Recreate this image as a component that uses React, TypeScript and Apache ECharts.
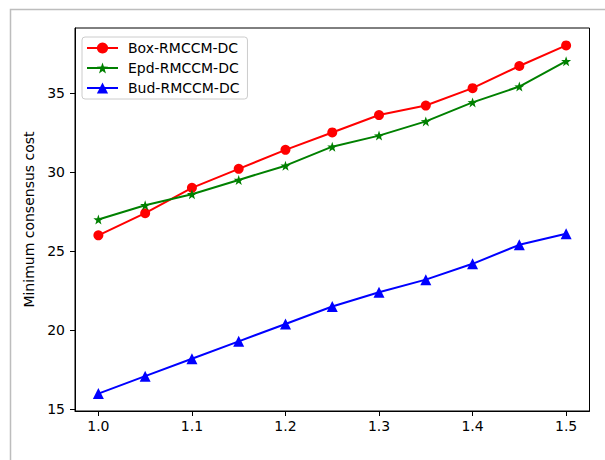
import React, { useEffect, useRef } from "react";
import * as echarts from "echarts";

const xValues = [1.0, 1.05, 1.1, 1.15, 1.2, 1.25, 1.3, 1.35, 1.4, 1.45, 1.5];
const boxValues = [26.0, 27.4, 29.0, 30.2, 31.4, 32.5, 33.6, 34.2, 35.3, 36.7, 38.0];
const epdValues = [27.0, 27.9, 28.6, 29.5, 30.4, 31.6, 32.3, 33.2, 34.4, 35.4, 37.0];
const budValues = [16.0, 17.1, 18.2, 19.3, 20.4, 21.5, 22.4, 23.2, 24.2, 25.4, 26.1];
const xTicks = [1.0, 1.1, 1.2, 1.3, 1.4, 1.5];
const yTicks = [15, 20, 25, 30, 35];
const seriesNames = ["Box-RMCCM-DC", "Epd-RMCCM-DC", "Bud-RMCCM-DC"];

const STAR =
  "path://M0,-10 L2.35,-3.24 L9.51,-3.09 L3.8,1.24 L5.88,8.09 L0,4 L-5.88,8.09 L-3.8,1.24 L-9.51,-3.09 L-2.35,-3.24 Z";

const FONT = "DejaVu Sans";

export default function App() {
  const ref = useRef<HTMLDivElement>(null);
  useEffect(() => {
    if (!ref.current) return;
    const chart = echarts.init(ref.current, null, { renderer: "svg" });
    const zip = (ys: number[]) => xValues.map((x, i) => [x, ys[i]]);
    chart.setOption({
      animation: false,
      backgroundColor: "#fff",
      graphic: [
        {
          type: "rect",
          shape: { x: 10.5, y: 9.5, width: 700, height: 700 },
          style: { fill: "none", stroke: "#bdbdbd", lineWidth: 1.5 },
          silent: true,
        },
      ],
      grid: {
        left: 75,
        right: 15.5,
        top: 28,
        bottom: 49,
        show: true,
        borderColor: "#000",
        borderWidth: 1,
        backgroundColor: "transparent",
      },
      legend: {
        orient: "vertical",
        left: 82,
        top: 37,
        itemWidth: 31,
        itemHeight: 14,
        itemGap: 6,
        padding: [4, 8, 4, 4],
        borderColor: "#cccccc",
        borderWidth: 1,
        borderRadius: 3,
        backgroundColor: "rgba(255,255,255,0.8)",
        textStyle: {
          fontFamily: FONT,
          fontSize: 14,
          color: "#000",
          lineHeight: 14,
          padding: [0, 0, 0, 5],
        },
        data: seriesNames,
      },
      xAxis: {
        type: "value",
        min: 0.975,
        max: 1.525,
        splitLine: { show: false },
        axisLine: { show: true, lineStyle: { color: "#000", width: 1 } },
        axisTick: {
          show: true,
          length: 5,
          lineStyle: { color: "#000" },
          customValues: xTicks,
        },
        axisLabel: {
          fontFamily: FONT,
          fontSize: 14,
          color: "#000",
          margin: 8,
          customValues: xTicks,
          formatter: (v: number) => v.toFixed(1),
        },
      },
      yAxis: {
        type: "value",
        min: 14.9,
        max: 39.1,
        name: "Minimum consensus cost",
        nameLocation: "middle",
        nameGap: 35,
        nameTextStyle: { fontFamily: FONT, fontSize: 14, color: "#000" },
        splitLine: { show: false },
        axisLine: { show: true, lineStyle: { color: "#000", width: 1 } },
        axisTick: {
          show: true,
          length: 5,
          lineStyle: { color: "#000" },
          customValues: yTicks,
        },
        axisLabel: {
          fontFamily: FONT,
          fontSize: 14,
          color: "#000",
          margin: 10,
          customValues: yTicks,
        },
      },
      series: [
        {
          name: seriesNames[0],
          type: "line",
          data: zip(boxValues),
          symbol: "circle",
          symbolSize: 10,
          color: "#ff0000",
          lineStyle: { width: 2, color: "#ff0000" },
          itemStyle: { color: "#ff0000" },
          z: 3,
        },
        {
          name: seriesNames[1],
          type: "line",
          data: zip(epdValues),
          symbol: STAR,
          symbolSize: 10,
          color: "#008000",
          lineStyle: { width: 2, color: "#008000" },
          itemStyle: { color: "#008000" },
          z: 4,
        },
        {
          name: seriesNames[2],
          type: "line",
          data: zip(budValues),
          symbol: "triangle",
          symbolSize: 11,
          color: "#0000ff",
          lineStyle: { width: 2, color: "#0000ff" },
          itemStyle: { color: "#0000ff" },
          z: 5,
        },
      ],
    });
    return () => chart.dispose();
  }, []);
  return (
    <div
      ref={ref}
      style={{ position: "fixed", left: 0, top: 0, width: 605, height: 460 }}
    />
  );
}
